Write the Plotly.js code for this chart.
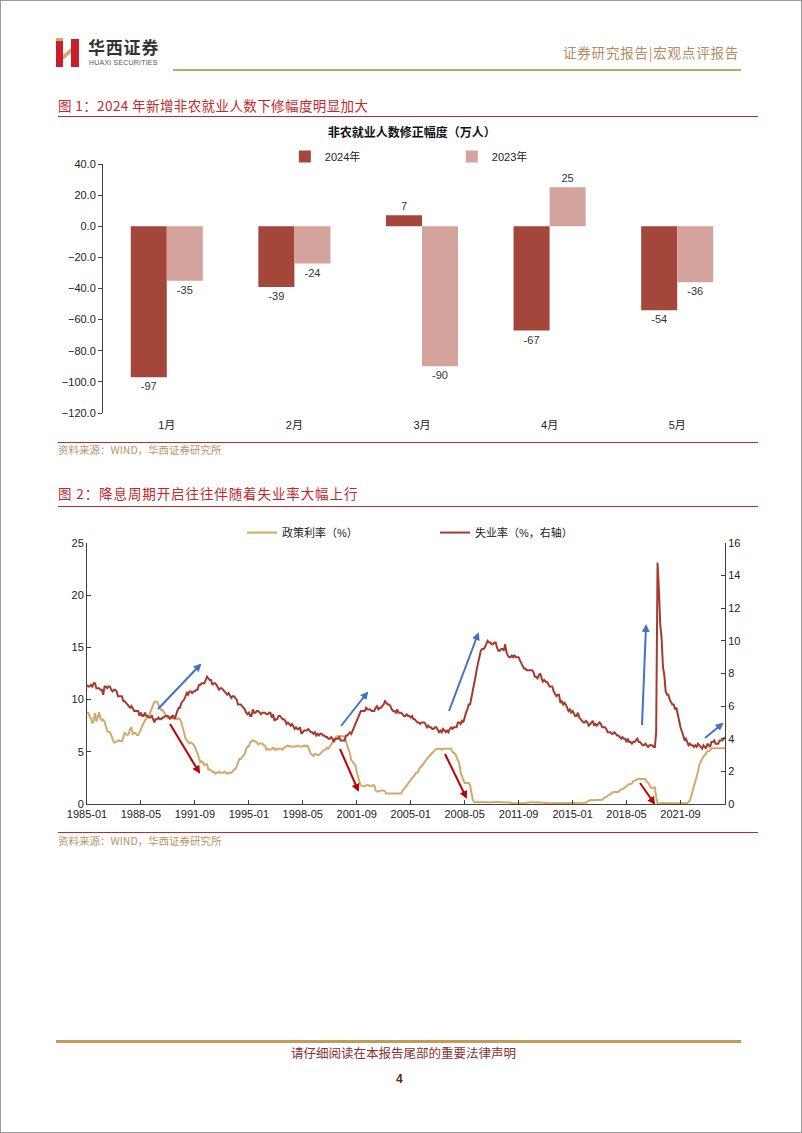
<!DOCTYPE html>
<html><head><meta charset="utf-8">
<script src="https://cdn.plot.ly/plotly-3.0.1.min.js"></script>
<style>
html,body{margin:0;padding:0;background:#fff;}
#page{position:relative;width:802px;height:1133px;box-sizing:border-box;border:1px solid #9a9a9a;overflow:hidden;font-family:'Noto Sans CJK SC','Liberation Sans',sans-serif;}
.abs{position:absolute;white-space:nowrap;line-height:1.15;}
.hline{position:absolute;}
#c1{position:absolute;left:40px;top:120px;width:720px;height:320px;}
#c2{position:absolute;left:40px;top:505px;width:720px;height:325px;}
</style></head>
<body><div id="page">
<svg class="abs" style="left:54px;top:37px" width="26" height="30" viewBox="0 0 26 30">
  <polygon points="1,3 8,3 8,29 1,29" fill="#C8202A"/>
  <polygon points="16,1 24,1 24,29 16,29" fill="#C8202A"/>
  <polygon points="8,17 16,10 16,15 8,22" fill="#D6A86A"/>
  <polygon points="1,0 8,0 8,3 1,3" fill="#D6A86A"/>
</svg>
<div class="abs" style="left:87px;top:37px;font-size:17px;line-height:1;font-weight:bold;color:#333;letter-spacing:0.8px;">华西证券</div>
<div class="abs" style="left:88px;top:58px;font-size:7px;line-height:1;color:#555;font-family:'Liberation Sans',sans-serif;letter-spacing:0.2px;">HUAXI SECURITIES</div>
<div class="abs" style="left:562px;top:44px;font-size:13.5px;color:#B48C60;letter-spacing:0.8px;">证券研究报告|宏观点评报告</div>
<div class="hline" style="left:172px;top:68px;width:568px;height:2px;background:#C9A26A;"></div>

<div class="abs" style="left:57px;top:97px;font-size:13.5px;color:#C0272D;letter-spacing:0.4px;">图 1：2024 年新增非农就业人数下修幅度明显加大</div>
<div class="hline" style="left:57px;top:115px;width:700px;height:1px;background:#C0272D;"></div>
<div id="c1"></div>
<div class="hline" style="left:57px;top:441px;width:700px;height:1px;background:#C0272D;"></div>
<div class="abs" style="left:57px;top:443px;font-size:10.5px;color:#B8946A;">资料来源：WIND，华西证券研究所</div>

<div class="abs" style="left:57px;top:485px;font-size:13.5px;color:#C0272D;letter-spacing:0.9px;">图 2：降息周期开启往往伴随着失业率大幅上行</div>
<div class="hline" style="left:57px;top:505px;width:700px;height:1px;background:#C0272D;"></div>
<div id="c2"></div>
<div class="hline" style="left:57px;top:831px;width:700px;height:1px;background:#C0272D;"></div>
<div class="abs" style="left:57px;top:834px;font-size:10.5px;color:#B8946A;">资料来源：WIND，华西证券研究所</div>

<svg class="abs" style="left:0;top:0;pointer-events:none" width="802" height="1133" id="arrows">
  <defs>
    <marker id="mb" markerWidth="8" markerHeight="8" refX="6" refY="4" orient="auto" markerUnits="userSpaceOnUse"><path d="M0,0 L8,4 L0,8 Z" fill="#4472C4"/></marker>
    <marker id="mr" markerWidth="8" markerHeight="8" refX="6" refY="4" orient="auto" markerUnits="userSpaceOnUse"><path d="M0,0 L8,4 L0,8 Z" fill="#C00000"/></marker>
  </defs>
</svg>

<div class="hline" style="left:55px;top:1039px;width:685px;height:3px;background:#C49A5A;"></div>
<div class="abs" style="left:290px;top:1045px;font-size:12.5px;color:#8B2E2E;">请仔细阅读在本报告尾部的重要法律声明</div>
<div class="abs" style="left:395px;top:1072px;font-size:12px;font-weight:bold;color:#6B1A1A;font-family:'Liberation Sans',sans-serif;">4</div>
</div>
<script>
// ---------- Figure 1 data ----------
var months = ['1月','2月','3月','4月','5月'];
var rev2024 = [-97, -39, 7, -67, -54];
var rev2023 = [-35, -24, -90, 25, -36];
var c1Title = '非农就业人数修正幅度（万人）';

// ---------- Figure 2 data (monthly, 1985-01 .. 2024-06) ----------
var startYear = 1985, startMonth = 1;
var policyRate = [
8.8,8.7,8.4,8.2,7.7,8.0,8.7,7.9,8.3,8.8,8.2,8.0,
8.1,7.9,7.5,7.0,6.9,6.9,6.6,6.2,5.9,5.9,6.0,6.0,
6.1,6.0,6.0,6.4,6.8,6.7,6.6,6.7,7.2,7.3,6.7,6.8,
6.8,6.6,6.6,6.9,7.1,7.5,7.8,8.0,8.2,8.3,8.4,8.8,
9.1,9.4,9.8,9.8,9.8,9.5,9.2,9.0,9.0,8.8,8.6,8.5,
8.2,8.2,8.3,8.3,8.2,8.3,8.2,8.1,8.2,8.1,7.8,7.3,
6.9,6.3,6.1,5.9,5.8,5.9,5.8,5.7,5.5,5.2,4.8,4.4,
4.0,4.1,4.0,3.7,3.8,3.8,3.3,3.3,3.2,3.1,3.1,2.9,
3.0,3.0,3.1,3.0,3.0,3.0,3.1,3.0,2.9,3.0,3.0,3.0,
3.1,3.3,3.3,3.6,4.0,4.3,4.3,4.5,4.7,4.8,5.3,5.5,
5.5,5.9,6.0,6.1,6.0,6.0,5.9,5.7,5.8,5.8,5.8,5.6,
5.6,5.2,5.3,5.2,5.2,5.3,5.4,5.2,5.3,5.2,5.3,5.3,
5.3,5.2,5.4,5.5,5.5,5.6,5.5,5.5,5.5,5.5,5.5,5.5,
5.6,5.5,5.5,5.5,5.5,5.6,5.5,5.6,5.5,5.1,4.8,4.7,
4.6,4.8,4.8,4.7,4.7,4.8,5.0,5.1,5.2,5.2,5.4,5.3,
5.5,5.7,5.9,6.0,6.3,6.5,6.5,6.5,6.5,6.5,6.5,6.4,
6.0,5.5,5.3,4.8,4.2,4.0,3.8,3.7,3.1,2.5,2.1,1.8,
1.7,1.7,1.7,1.8,1.8,1.8,1.7,1.7,1.8,1.8,1.3,1.2,
1.2,1.3,1.3,1.3,1.3,1.2,1.0,1.0,1.0,1.0,1.0,1.0,
1.0,1.0,1.0,1.0,1.0,1.0,1.3,1.4,1.6,1.8,1.9,2.2,
2.3,2.5,2.6,2.8,3.0,3.0,3.3,3.5,3.6,3.8,4.0,4.2,
4.3,4.5,4.6,4.8,4.9,5.0,5.2,5.3,5.3,5.3,5.3,5.2,
5.3,5.3,5.3,5.3,5.3,5.3,5.3,5.0,4.9,4.8,4.5,4.2,
3.9,3.0,2.6,2.3,2.0,2.0,2.0,2.0,1.8,1.0,0.4,0.2,
0.15,0.22,0.18,0.15,0.18,0.21,0.16,0.16,0.15,0.12,0.12,0.12,
0.11,0.13,0.16,0.20,0.20,0.18,0.18,0.19,0.19,0.19,0.19,0.18,
0.17,0.16,0.14,0.10,0.09,0.09,0.07,0.10,0.08,0.07,0.08,0.07,
0.08,0.10,0.13,0.14,0.16,0.16,0.16,0.13,0.14,0.16,0.16,0.16,
0.14,0.15,0.14,0.15,0.11,0.09,0.09,0.08,0.08,0.09,0.08,0.09,
0.07,0.07,0.08,0.09,0.09,0.10,0.09,0.09,0.09,0.09,0.09,0.12,
0.11,0.11,0.11,0.12,0.12,0.13,0.13,0.14,0.14,0.12,0.12,0.24,
0.34,0.38,0.36,0.37,0.37,0.38,0.39,0.40,0.40,0.40,0.41,0.54,
0.65,0.66,0.79,0.90,0.91,1.04,1.15,1.16,1.15,1.15,1.16,1.30,
1.41,1.42,1.51,1.69,1.70,1.82,1.91,1.91,1.95,2.19,2.20,2.27,
2.40,2.40,2.41,2.42,2.39,2.38,2.40,2.13,2.04,1.83,1.55,1.55,
1.55,1.58,0.65,0.05,0.05,0.08,0.09,0.10,0.09,0.09,0.09,0.09,
0.09,0.08,0.07,0.07,0.06,0.08,0.10,0.09,0.08,0.08,0.08,0.08,
0.08,0.08,0.20,0.33,0.77,1.21,1.68,2.33,2.56,3.08,3.78,4.10,
4.33,4.57,4.65,4.83,5.06,5.08,5.12,5.33,5.33,5.33,5.33,5.33,
5.33,5.33,5.33,5.33,5.33,5.33];
var unemployment = [
7.3,7.2,7.2,7.3,7.2,7.4,7.4,7.1,7.1,7.1,7.0,7.0,
6.7,7.2,7.2,7.1,7.2,7.2,7.0,6.9,7.0,7.0,6.9,6.6,
6.6,6.6,6.6,6.3,6.3,6.2,6.1,6.0,5.9,6.0,5.8,5.7,
5.7,5.7,5.7,5.4,5.6,5.4,5.4,5.6,5.4,5.4,5.3,5.3,
5.4,5.2,5.0,5.2,5.2,5.3,5.2,5.2,5.3,5.3,5.4,5.4,
5.4,5.3,5.2,5.4,5.4,5.2,5.5,5.7,5.9,5.9,6.2,6.3,
6.4,6.6,6.8,6.7,6.9,6.9,6.8,6.9,6.9,7.0,7.0,7.3,
7.3,7.4,7.4,7.4,7.6,7.8,7.7,7.6,7.6,7.3,7.4,7.4,
7.3,7.1,7.0,7.1,7.1,7.0,6.9,6.8,6.7,6.8,6.6,6.5,
6.6,6.6,6.5,6.4,6.1,6.1,6.1,6.0,5.9,5.8,5.6,5.5,
5.6,5.4,5.4,5.8,5.6,5.6,5.7,5.7,5.6,5.5,5.6,5.6,
5.6,5.5,5.5,5.6,5.6,5.3,5.5,5.1,5.2,5.2,5.4,5.4,
5.3,5.2,5.2,5.1,4.9,5.0,4.9,4.8,4.9,4.7,4.6,4.7,
4.6,4.6,4.7,4.3,4.4,4.5,4.5,4.5,4.6,4.5,4.4,4.4,
4.3,4.4,4.2,4.3,4.2,4.3,4.3,4.2,4.2,4.1,4.1,4.0,
4.0,4.1,4.0,3.8,4.0,4.0,4.0,4.1,3.9,3.9,3.9,3.9,
4.2,4.2,4.3,4.4,4.3,4.5,4.6,4.9,5.0,5.3,5.5,5.7,
5.7,5.7,5.7,5.9,5.8,5.8,5.8,5.7,5.7,5.7,5.9,6.0,
5.8,5.9,5.9,6.0,6.1,6.3,6.2,6.1,6.1,6.0,5.8,5.7,
5.7,5.6,5.8,5.6,5.6,5.6,5.5,5.4,5.4,5.5,5.4,5.4,
5.3,5.4,5.2,5.2,5.1,5.0,5.0,4.9,5.0,5.0,5.0,4.9,
4.7,4.8,4.7,4.7,4.6,4.6,4.7,4.7,4.5,4.4,4.5,4.4,
4.6,4.5,4.4,4.5,4.4,4.6,4.7,4.6,4.7,4.7,4.7,5.0,
5.0,4.9,5.1,5.0,5.4,5.6,5.8,6.1,6.1,6.5,6.8,7.3,
7.8,8.3,8.7,9.0,9.4,9.5,9.5,9.6,9.8,10.0,9.9,9.9,
9.8,9.8,9.9,9.9,9.6,9.4,9.4,9.5,9.5,9.4,9.8,9.3,
9.1,9.0,9.0,9.1,9.0,9.1,9.0,9.0,9.0,8.8,8.6,8.5,
8.3,8.3,8.2,8.2,8.2,8.2,8.2,8.1,7.8,7.8,7.7,7.9,
8.0,7.7,7.5,7.6,7.5,7.5,7.3,7.2,7.2,7.2,6.9,6.7,
6.6,6.7,6.7,6.2,6.3,6.1,6.2,6.1,5.9,5.7,5.8,5.6,
5.7,5.5,5.4,5.4,5.6,5.3,5.2,5.1,5.0,5.0,5.1,5.0,
4.8,4.9,5.0,5.1,4.8,4.9,4.8,4.9,5.0,4.9,4.7,4.7,
4.7,4.6,4.4,4.4,4.4,4.3,4.3,4.4,4.3,4.2,4.2,4.1,
4.0,4.1,4.0,4.0,3.8,4.0,3.8,3.8,3.7,3.8,3.8,3.9,
4.0,3.8,3.8,3.7,3.6,3.6,3.7,3.6,3.5,3.6,3.6,3.6,
3.5,3.5,4.4,14.8,13.2,11.0,10.2,8.4,7.9,6.9,6.7,6.7,
6.4,6.2,6.1,6.1,5.8,5.9,5.4,5.1,4.7,4.5,4.2,3.9,
4.0,3.8,3.6,3.7,3.6,3.6,3.5,3.6,3.5,3.7,3.6,3.5,
3.4,3.6,3.5,3.4,3.7,3.6,3.5,3.8,3.8,3.9,3.7,3.7,
3.7,3.9,3.9,3.9,4.0,4.1];
var xTickStart = '1985-01-01', xTickStep = 'M40';
var legend2 = ['政策利率（%）', '失业率（%，右轴）'];

var dates = [];
for (var i = 0; i < policyRate.length; i++) {
  var m = startMonth - 1 + i;
  var y = startYear + Math.floor(m / 12), mm = (m % 12) + 1;
  dates.push(y + '-' + (mm < 10 ? '0' : '') + mm + '-01');
}

var FONT = "'Liberation Sans', 'Noto Sans CJK SC', sans-serif";
var AX = '#404040';

// ---------- Chart 1 ----------
Plotly.newPlot('c1', [
  {type:'bar', name:'2024年', x:months, y:rev2024, marker:{color:'#A5463A'},
   text:rev2024.map(String), textposition:'outside', textfont:{size:11,color:'#333'}, cliponaxis:false},
  {type:'bar', name:'2023年', x:months, y:rev2023, marker:{color:'#D4A39C'},
   text:rev2023.map(String), textposition:'outside', textfont:{size:11,color:'#333'}, cliponaxis:false}
], {
  width:720, height:320,
  margin:{l:62, r:20, t:43.3, b:28.3},
  paper_bgcolor:'rgba(0,0,0,0)', plot_bgcolor:'rgba(0,0,0,0)',
  font:{family:FONT, size:11, color:'#222'},
  title:{text:c1Title, font:{size:12, weight:'bold', color:'#111', family:"'Noto Sans CJK SC', sans-serif"},
         xref:'container', x:0.515, xanchor:'center', yref:'container', y:0.9625, yanchor:'middle'},
  barmode:'group', bargap:0.435, bargroupgap:0,
  showlegend:true,
  legend:{orientation:'h', x:0.285, xanchor:'left', y:1.03, yanchor:'middle', font:{size:11,color:'#222'},
          entrywidth:122, entrywidthmode:'pixels', bgcolor:'rgba(0,0,0,0)', traceorder:'normal'},
  xaxis:{type:'category', showline:false, ticks:'', showgrid:false, zeroline:false, ticklabelstandoff:4,
         tickfont:{size:11,color:'#222'}},
  xaxis2:{overlaying:'x', anchor:'free', position:0.75, range:[-0.5,4.5], type:'linear',
          tickvals:[-0.5,0.5,1.5,2.5,3.5,4.5], showticklabels:false, ticks:'inside', ticklen:4,
          tickcolor:AX, showline:true, linecolor:AX, linewidth:1, showgrid:false, zeroline:false},
  yaxis:{range:[-120,40], dtick:20, tickformat:'.1f', showgrid:false, zeroline:false,
         showline:true, linecolor:AX, linewidth:1, ticks:'outside', ticklen:4, tickcolor:AX,
         tickfont:{size:11,color:'#222'}}
}, {staticPlot:true});

// ---------- Chart 2 ----------
Plotly.newPlot('c2', [
  {type:'scatter', mode:'lines', name:legend2[0], x:dates, y:policyRate, yaxis:'y',
   line:{color:'#D3A86C', width:2}},
  {type:'scatter', mode:'lines', name:legend2[1], x:dates, y:unemployment, yaxis:'y2',
   line:{color:'#A53A30', width:2}}
], {
  width:720, height:325,
  margin:{l:46, r:36, t:30, b:27.3},
  paper_bgcolor:'rgba(0,0,0,0)', plot_bgcolor:'rgba(0,0,0,0)',
  font:{family:FONT, size:11, color:'#222'},
  showlegend:true,
  legend:{orientation:'h', x:0.243, xanchor:'left', y:1.04, yanchor:'middle', font:{size:11,color:'#222'},
          entrywidth:148, entrywidthmode:'pixels', bgcolor:'rgba(0,0,0,0)'},
  xaxis:{type:'date', range:[dates[0], dates[dates.length-1]], tick0:xTickStart, dtick:xTickStep,
         tickformat:'%Y-%m', showgrid:false, zeroline:false, showline:true, linecolor:AX, linewidth:1,
         ticks:'inside', ticklen:4, tickcolor:AX, tickfont:{size:11,color:'#222'}},
  yaxis:{range:[0,25], dtick:5, showgrid:false, zeroline:false, showline:true, linecolor:AX, linewidth:1,
         ticks:'inside', ticklen:4, tickcolor:AX, tickfont:{size:11,color:'#222'}},
  yaxis2:{range:[0,16], dtick:2, overlaying:'y', side:'right', showgrid:false, zeroline:false, showline:true,
          linecolor:AX, linewidth:1, ticks:'inside', ticklen:4, tickcolor:AX, tickfont:{size:11,color:'#222'}}
}, {staticPlot:true});

// ---------- Arrows (annotation overlay, page pixels) ----------
var arrowDefs = [
  ['b',157,708,199,664],['r',169,723,198,771],
  ['b',340,725,366,692],['r',339,748,357,789],
  ['b',448,710,477,633],['r',444,753,465,796],
  ['b',641,724,645,625],['r',639,782,653,802],
  ['b',704,737,721,723]
];
var svg = document.getElementById('arrows');
arrowDefs.forEach(function(a){
  var l = document.createElementNS('http://www.w3.org/2000/svg','line');
  l.setAttribute('x1',a[1]); l.setAttribute('y1',a[2]); l.setAttribute('x2',a[3]); l.setAttribute('y2',a[4]);
  l.setAttribute('stroke', a[0]==='b' ? '#4472C4' : '#C00000');
  l.setAttribute('stroke-width','2');
  l.setAttribute('marker-end', a[0]==='b' ? 'url(#mb)' : 'url(#mr)');
  svg.appendChild(l);
});
</script>
</body></html>
